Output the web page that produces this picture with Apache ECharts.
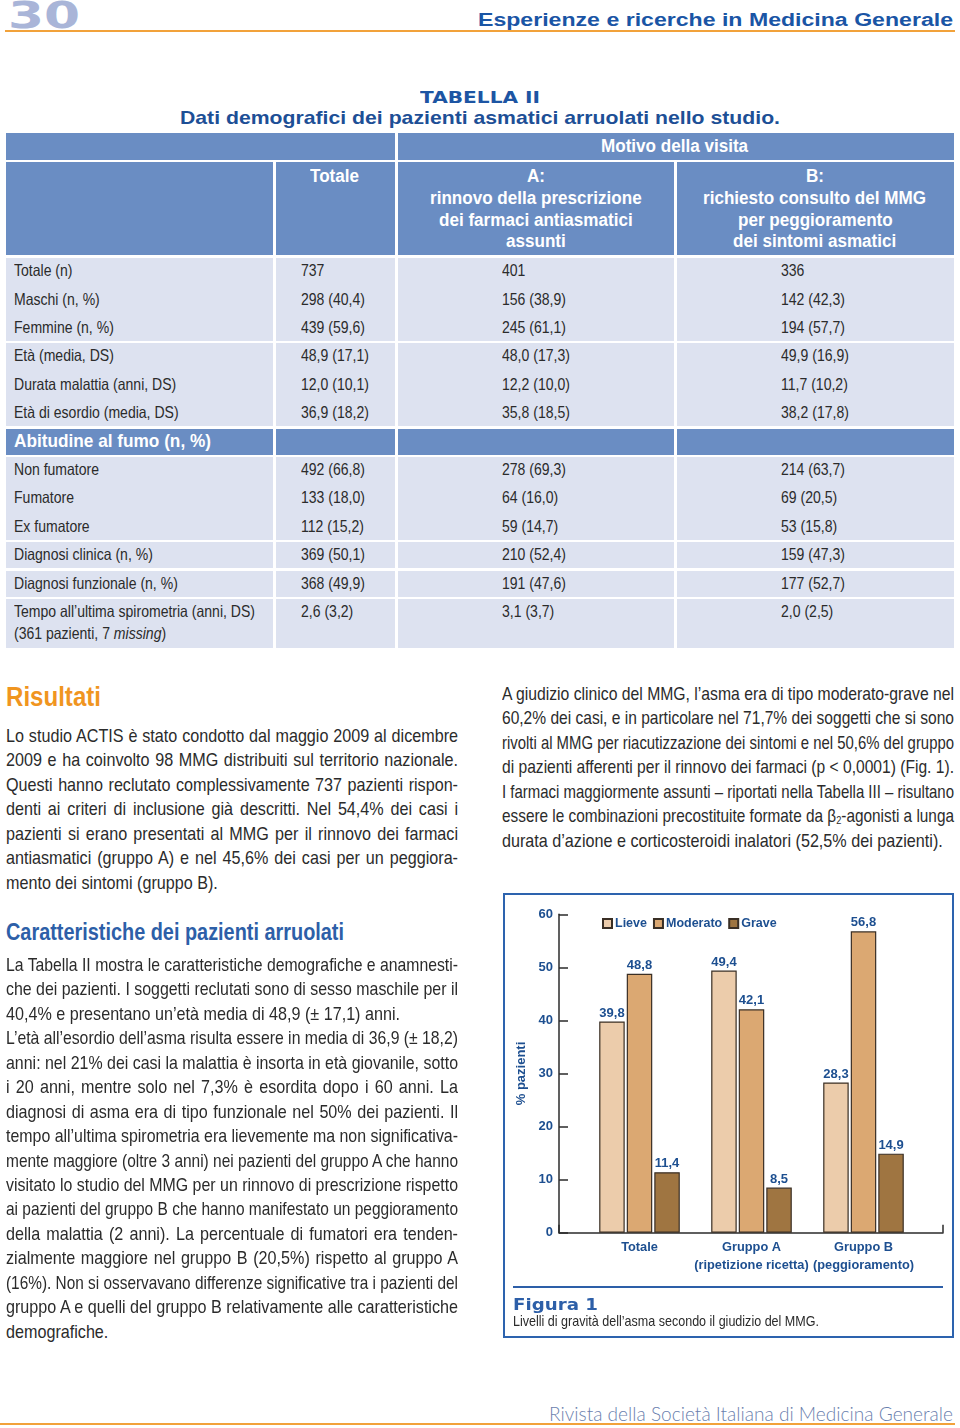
<!DOCTYPE html>
<html>
<head>
<meta charset="utf-8">
<script src="https://cdn.jsdelivr.net/npm/echarts@6/dist/echarts.min.js"></script>
<style>
  html,body{margin:0;padding:0;background:#fff;}
  body{width:960px;height:1428px;position:relative;overflow:hidden;}
  .r{position:absolute;}
  #chart{position:absolute;left:505px;top:895px;width:447px;height:390px;}
  #box{position:absolute;left:503px;top:893px;width:451px;height:445px;box-sizing:border-box;border:2px solid #2d63ae;}
</style>
</head>
<body>
<div id="box"></div>
<div id="chart"></div>
<script>
// ---------------- DATA ----------------
const categories = ['Totale', 'Gruppo A\n(ripetizione ricetta)', 'Gruppo B\n(peggioramento)'];
const seriesNames = ['Lieve', 'Moderato', 'Grave'];
const lieve = [39.8, 49.4, 28.3];
const moderato = [48.8, 42.1, 56.8];
const grave = [11.4, 8.5, 14.9];
const yMin = 0, yMax = 60, yStep = 10;

const tableRowLabels = ['Totale (n)', 'Maschi (n, %)', 'Femmine (n, %)', 'Età (media, DS)',
  'Durata malattia (anni, DS)', 'Età di esordio (media, DS)', 'Abitudine al fumo (n, %)',
  'Non fumatore', 'Fumatore', 'Ex fumatore', 'Diagnosi clinica (n, %)', 'Diagnosi funzionale (n, %)',
  'Tempo all’ultima spirometria (anni, DS)'];
const tableRowNote = '(361 pazienti, 7 <i>missing</i>)';
const colTotale = ['737', '298 (40,4)', '439 (59,6)', '48,9 (17,1)', '12,0 (10,1)', '36,9 (18,2)', '',
  '492 (66,8)', '133 (18,0)', '112 (15,2)', '369 (50,1)', '368 (49,9)', '2,6 (3,2)'];
const colA = ['401', '156 (38,9)', '245 (61,1)', '48,0 (17,3)', '12,2 (10,0)', '35,8 (18,5)', '',
  '278 (69,3)', '64 (16,0)', '59 (14,7)', '210 (52,4)', '191 (47,6)', '3,1 (3,7)'];
const colB = ['336', '142 (42,3)', '194 (57,7)', '49,9 (16,9)', '11,7 (10,2)', '38,2 (17,8)', '',
  '214 (63,7)', '69 (20,5)', '53 (15,8)', '159 (47,3)', '177 (52,7)', '2,0 (2,5)'];
const headTotale = 'Totale';
const headMotivo = 'Motivo della visita';
const headA = ['A:', 'rinnovo della prescrizione', 'dei farmaci antiasmatici', 'assunti'];
const headB = ['B:', 'richiesto consulto del MMG', 'per peggioramento', 'dei sintomi asmatici'];

const textRisultati = [
  'Lo studio ACTIS è stato condotto dal maggio 2009 al dicembre',
  '2009 e ha coinvolto 98 MMG distribuiti sul territorio nazionale.',
  'Questi hanno reclutato complessivamente 737 pazienti rispon-',
  'denti ai criteri di inclusione già descritti. Nel 54,4% dei casi i',
  'pazienti si erano presentati al MMG per il rinnovo dei farmaci',
  'antiasmatici (gruppo A) e nel 45,6% dei casi per un peggiora-',
  'mento dei sintomi (gruppo B).'];
const textCaratt = [
  'La Tabella II mostra le caratteristiche demografiche e anamnesti-',
  'che dei pazienti. I soggetti reclutati sono di sesso maschile per il',
  '40,4% e presentano un’età media di 48,9 (± 17,1) anni.',
  'L’età all’esordio dell’asma risulta essere in media di 36,9 (± 18,2)',
  'anni: nel 21% dei casi la malattia è insorta in età giovanile, sotto',
  'i 20 anni, mentre solo nel 7,3% è esordita dopo i 60 anni. La',
  'diagnosi di asma era di tipo funzionale nel 50% dei pazienti. Il',
  'tempo all’ultima spirometria era lievemente ma non significativa-',
  'mente maggiore (oltre 3 anni) nei pazienti del gruppo A che hanno',
  'visitato lo studio del MMG per un rinnovo di prescrizione rispetto',
  'ai pazienti del gruppo B che hanno manifestato un peggioramento',
  'della malattia (2 anni). La percentuale di fumatori era tenden-',
  'zialmente maggiore nel gruppo B (20,5%) rispetto al gruppo A',
  '(16%). Non si osservavano differenze significative tra i pazienti del',
  'gruppo A e quelli del gruppo B relativamente alle caratteristiche',
  'demografiche.'];
const textRight = [
  'A giudizio clinico del MMG, l’asma era di tipo moderato-grave nel',
  '60,2% dei casi, e in particolare nel 71,7% dei soggetti che si sono',
  'rivolti al MMG per riacutizzazione dei sintomi e nel 50,6% del gruppo',
  'di pazienti afferenti per il rinnovo dei farmaci (p &lt; 0,0001) (Fig. 1).',
  'I farmaci maggiormente assunti – riportati nella Tabella III – risultano',
  'essere le combinazioni precostituite formate da β<sub style="font-size:0.6em;vertical-align:-0.15em">2</sub>-agonisti a lunga',
  'durata d’azione e corticosteroidi inalatori (52,5% dei pazienti).'];

// ---------------- HELPERS ----------------
const NARROW = '"Liberation Sans","Arimo",Arial,sans-serif';
const SANS = '"Liberation Sans","DejaVu Sans",Arial,sans-serif';
const WIDE = '"DejaVu Sans","Liberation Sans",sans-serif';
const BLUE = '#1d55a3';
const HEADBLUE = '#6a8dc3';
const LAV = '#dde2f0';
const TXT = '#2b2b2b';

function R(x, y, w, h, c) {
  const d = document.createElement('div');
  d.className = 'r';
  d.style.cssText = `left:${x}px;top:${y}px;width:${w}px;height:${h}px;background:${c};`;
  document.body.appendChild(d);
}
function T(html, x, cy, size, o) {
  o = o || {};
  const L = o.lh || size * 1.2;
  const d = document.createElement('div');
  d.className = 'r';
  d.style.cssText = `white-space:nowrap;top:${cy - L / 2}px;height:${L}px;line-height:${L}px;font-size:${size}px;font-family:${o.font || NARROW};font-weight:${o.weight || 'normal'};color:${o.color || TXT};`;
  const s = document.createElement('span');
  s.style.display = 'inline-block';
  s.style.transformOrigin = '0 50%';
  s.innerHTML = html;
  d.appendChild(s);
  document.body.appendChild(d);
  const w = s.getBoundingClientRect().width;
  let fw = w;
  if (o.w) {
    const sx = o.sx || 1;
    if (o.justify && w * sx < o.w) {
      const n = (s.textContent.match(/ /g) || []).length;
      if (n) s.style.wordSpacing = ((o.w - w * sx) / n / sx) + 'px';
      s.style.transform = `scaleX(${sx})`;
    } else {
      s.style.transform = `scaleX(${o.w / w})`;
    }
    fw = o.w;
  } else if (o.sx) {
    s.style.transform = `scaleX(${o.sx})`;
    fw = w * o.sx;
  }
  const left = o.align === 'right' ? x - fw : o.align === 'center' ? x - fw / 2 : x;
  d.style.left = left + 'px';
  return d;
}
const cvs = document.createElement('canvas').getContext('2d');
function natW(txt, size, weight, font) {
  cvs.font = `${weight} ${size}px ${font}`;
  return cvs.measureText(txt).width;
}

// ---------------- PAGE HEADER ----------------
R(5, 30, 950, 2, '#f2a23a');
T('30', 8, 15, 38, {font: WIDE, weight: 'bold', color: '#a9b5d8', w: 72, lh: 30});
T('Esperienze e ricerche in Medicina Generale', 953, 21, 18, {font: SANS, weight: 'bold', color: '#1a55a5', w: 475, align: 'right'});

// ---------------- TABLE ----------------
T('TABELLA II', 480, 98, 16, {font: WIDE, weight: 'bold', color: BLUE, w: 120, align: 'center'});
T('Dati demografici dei pazienti asmatici arruolati nello studio.', 480, 118, 19, {color: '#1d4f96', w: 600, align: 'center', weight: 'bold'});

const cols = [[6, 273], [276, 395], [398, 674], [677, 954]];
R(6, 133, 389, 27, HEADBLUE);
R(398, 133, 556, 27, HEADBLUE);
cols.forEach(c => R(c[0], 162, c[1] - c[0], 93, HEADBLUE));

const hsx = 223 / natW(headB[1], 18, 'bold', NARROW);
T(headMotivo, 675, 147, 18, {weight: 'bold', color: '#fff', sx: hsx, align: 'center'});
T(headTotale, 335, 177, 18, {weight: 'bold', color: '#fff', sx: hsx, align: 'center'});
headA.forEach((t, i) => T(t, 536, 177 + i * 21.7, 18, {weight: 'bold', color: '#fff', sx: hsx, align: 'center'}));
headB.forEach((t, i) => T(t, 815, 177 + i * 21.7, 18, {weight: 'bold', color: '#fff', sx: hsx, align: 'center'}));

// body groups (row index ranges)
const groups = [[0, 2], [3, 5], [6, 6], [7, 9], [10, 10], [11, 11], [12, 12]];
const pitch = 28.42, firstCy = 271;
const rowTop = i => firstCy - 14 + i * pitch;
groups.forEach(g => {
  const y0 = rowTop(g[0]) + 1.2;
  const y1 = g[1] === 12 ? 648 : rowTop(g[1] + 1) - 1.2;
  const col = g[0] === 6 ? HEADBLUE : LAV;
  cols.forEach(c => R(c[0], y0, c[1] - c[0], y1 - y0, col));
});
const bsx = 241 / natW(tableRowLabels[12], 16.5, 'normal', NARROW);
tableRowLabels.forEach((lab, i) => {
  const cy = firstCy + i * pitch;
  if (i === 6) {
    T(lab, 14, cy, 19, {weight: 'bold', color: '#fff', w: 197});
    return;
  }
  T(lab, 14, cy, 16.5, {sx: bsx});
  T(colTotale[i], 301, cy, 16.5, {sx: bsx});
  T(colA[i], 502, cy, 16.5, {sx: bsx});
  T(colB[i], 781, cy, 16.5, {sx: bsx});
});
T(tableRowNote, 14, firstCy + 12 * pitch + 22, 16.5, {sx: bsx});

// ---------------- BODY TEXT ----------------
const psx = 394 / natW(textCaratt[2], 18.5, 'normal', NARROW);
const lh = 24.45;
T('Risultati', 6, 697, 27, {weight: 'bold', color: '#f0951f', w: 95});
textRisultati.forEach((t, i) => {
  const last = i === textRisultati.length - 1;
  T(t, 6, 736 + i * lh, 18.5, last ? {sx: psx} : {sx: psx, w: 452, justify: true});
});
T('Caratteristiche dei pazienti arruolati', 6, 933, 23, {weight: 'bold', color: '#2d5fa8', w: 338});
textCaratt.forEach((t, i) => {
  const last = i === 2 || i === textCaratt.length - 1;
  T(t, 6, 965 + i * lh, 18.5, last ? {sx: psx} : {sx: psx, w: 452, justify: true});
});
textRight.forEach((t, i) => {
  const last = i === textRight.length - 1;
  T(t, 502, 694 + i * lh, 18.5, last ? {sx: psx} : {sx: psx, w: 452, justify: true});
});

// ---------------- FIGURE CAPTION ----------------
R(513, 1286, 430, 2, '#2d5fa8');
T('Figura 1', 513, 1305, 16, {font: WIDE, weight: 'bold', color: '#2d5fa8', w: 85});
T('Livelli di gravità dell’asma secondo il giudizio del MMG.', 513, 1322, 14.5, {w: 306});

// ---------------- FOOTER ----------------
R(0, 1423, 955, 2, '#f2a23a');
T('Rivista della Società Italiana di Medicina Generale', 953, 1413, 20, {font: '"Lato","Open Sans",sans-serif', weight: 300, color: '#6b7fae', w: 404, align: 'right'});

// ---------------- CHART ----------------
const OX = 505, OY = 895;
const chart = echarts.init(document.getElementById('chart'), null, {renderer: 'canvas'});
const CFONT = '"Liberation Sans","Arimo",Arial,sans-serif';
const labelBlue = '#1d4f90';
const colors = ['#ecccab', '#dba872', '#9f7541'];
const fmt = v => v.toFixed(1).replace('.', ',');
const gridTop = 914.3 - OY, gridH = 1232.7 - 914.3;
const mkSeries = (name, data, color) => ({
  name, type: 'bar', data, xAxisIndex: 0, yAxisIndex: 0,
  barWidth: 25.5, barGap: '8%',
  itemStyle: {color, borderColor: '#3a2f25', borderWidth: 1.2},
  label: {show: true, position: 'top', distance: 2, formatter: p => fmt(p.value),
    color: labelBlue, fontFamily: CFONT, fontWeight: 'bold', fontSize: 13}
});
chart.setOption({
  animation: false,
  textStyle: {fontFamily: CFONT},
  legend: {
    data: seriesNames, left: 597 - OX, top: 912 - OY, itemWidth: 9, itemHeight: 9, itemGap: 6,
    icon: 'rect',
    textStyle: {color: labelBlue, fontFamily: CFONT, fontWeight: 'bold', fontSize: 12.5, padding: [0, 0, 0, -2]}
  },
  grid: [
    {left: 583.5 - OX, top: gridTop, width: 336, height: gridH},
    {left: 559 - OX, top: gridTop, width: 384, height: gridH}
  ],
  xAxis: [
    {type: 'category', gridIndex: 0, data: categories,
      axisLine: {show: false}, axisTick: {show: false},
      axisLabel: {interval: 0, color: labelBlue, fontFamily: CFONT, fontWeight: 'bold', fontSize: 12.8, lineHeight: 18, margin: 6}},
    {type: 'value', gridIndex: 1, min: 0, max: 1, interval: 1,
      axisLine: {show: true, lineStyle: {color: '#2b2b2b', width: 1.5}},
      axisTick: {show: true, inside: true, length: 8, lineStyle: {color: '#2b2b2b', width: 1.5}},
      axisLabel: {show: false}, splitLine: {show: false}}
  ],
  yAxis: [
    {type: 'value', gridIndex: 0, min: yMin, max: yMax, interval: yStep, offset: 583.5 - 559,
      name: '% pazienti', nameLocation: 'middle', nameGap: 28, nameRotate: 90,
      nameTextStyle: {color: labelBlue, fontFamily: CFONT, fontWeight: 'bold', fontSize: 13},
      axisLine: {show: true, lineStyle: {color: '#2b2b2b', width: 1.5}},
      axisTick: {show: true, inside: true, length: 9, lineStyle: {color: '#2b2b2b', width: 1.5}},
      axisLabel: {color: labelBlue, fontFamily: CFONT, fontWeight: 'bold', fontSize: 13, margin: 6},
      splitLine: {show: false}},
    {type: 'value', gridIndex: 1, min: 0, max: 1, show: false}
  ],
  series: [
    mkSeries(seriesNames[0], lieve, colors[0]),
    mkSeries(seriesNames[1], moderato, colors[1]),
    mkSeries(seriesNames[2], grave, colors[2])
  ]
});
</script>
</body>
</html>
